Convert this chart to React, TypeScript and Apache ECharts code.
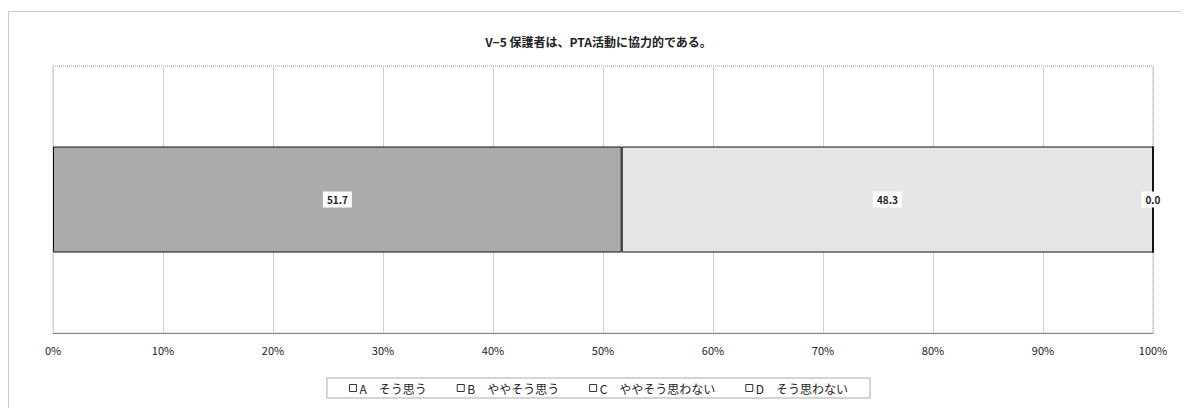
import React, { useEffect, useRef } from "react";
import * as echarts from "echarts";

const categories = [""];
const seriesNames = ["A\u3000そう思う", "B\u3000ややそう思う", "C\u3000ややそう思わない", "D\u3000そう思わない"];
const valuesA = [51.7];
const valuesB = [48.3];
const valuesC = [0.0];
const valuesD = [0.0];
const seriesColors = ["#ababab", "#e6e6e6", "#ffffff", "#ffffff"];
const showLabel = [true, true, true, false];
const titleText = "V−5 保護者は、PTA活動に協力的である。";

const FONT = "'Noto Sans CJK JP', 'Liberation Sans', sans-serif";

export default function App() {
  const ref = useRef<HTMLDivElement>(null);
  useEffect(() => {
    if (!ref.current) return;
    const chart = echarts.init(ref.current, undefined, { renderer: "svg" });
    const allValues = [valuesA, valuesB, valuesC, valuesD];
    chart.setOption({
      animation: false,
      backgroundColor: "#ffffff",
      textStyle: { fontFamily: FONT },
      title: {
        text: titleText,
        left: "center",
        top: 22,
        textStyle: { fontSize: 12, fontWeight: "bold", color: "#222", fontFamily: FONT },
      },
      graphic: [
        {
          type: "rect",
          shape: { x: 0.5, y: 3.5, width: 1300, height: 600 },
          style: { fill: "none", stroke: "#cccccc", lineWidth: 1 },
          silent: true,
          z: -1,
        },
      ],
      legend: {
        bottom: 10,
        left: "center",
        data: seriesNames.map((n) => ({
          name: n,
          icon: "rect",
          itemStyle: { color: "#ffffff", borderColor: "#333", borderWidth: 1 },
        })),
        itemWidth: 7,
        itemHeight: 7,
        itemGap: 30,
        padding: [4, 22],
        borderColor: "#aaaaaa",
        borderWidth: 1,
        textStyle: { fontSize: 12, color: "#222", fontFamily: FONT, padding: [0, 0, 0, -2] },
        selectedMode: false,
      },
      grid: { left: 45, right: 36, top: 58, bottom: 75, show: true, borderColor: "#999", borderWidth: 1, borderType: "dotted" },
      xAxis: {
        type: "value",
        min: 0,
        max: 100,
        interval: 10,
        axisLabel: { formatter: "{value}%", fontSize: 11, color: "#222", margin: 11, fontFamily: FONT },
        axisLine: { show: true, lineStyle: { color: "#888", type: "solid" } },
        axisTick: { show: false },
        splitLine: { show: true, lineStyle: { color: "#d0d0d0", width: 1 } },
      },
      yAxis: {
        type: "category",
        data: categories,
        axisLine: { show: false },
        axisTick: { show: false },
        axisLabel: { show: false },
      },
      series: seriesNames.map((name, i) => ({
        name,
        type: "bar",
        stack: "total",
        barWidth: 106,
        data: allValues[i],
        itemStyle: { color: seriesColors[i], borderColor: "#111", borderWidth: 1 },
        label: {
          show: showLabel[i],
          position: "inside",
          formatter: (p: any) => Number(p.value).toFixed(1),
          backgroundColor: "#ffffff",
          padding: [3, 4],
          fontSize: 10,
          fontWeight: "bold",
          color: "#222",
          fontFamily: FONT,
        },
      })),
    });
    return () => chart.dispose();
  }, []);
  return <div ref={ref} style={{ width: 1181, height: 400 }} />;
}
